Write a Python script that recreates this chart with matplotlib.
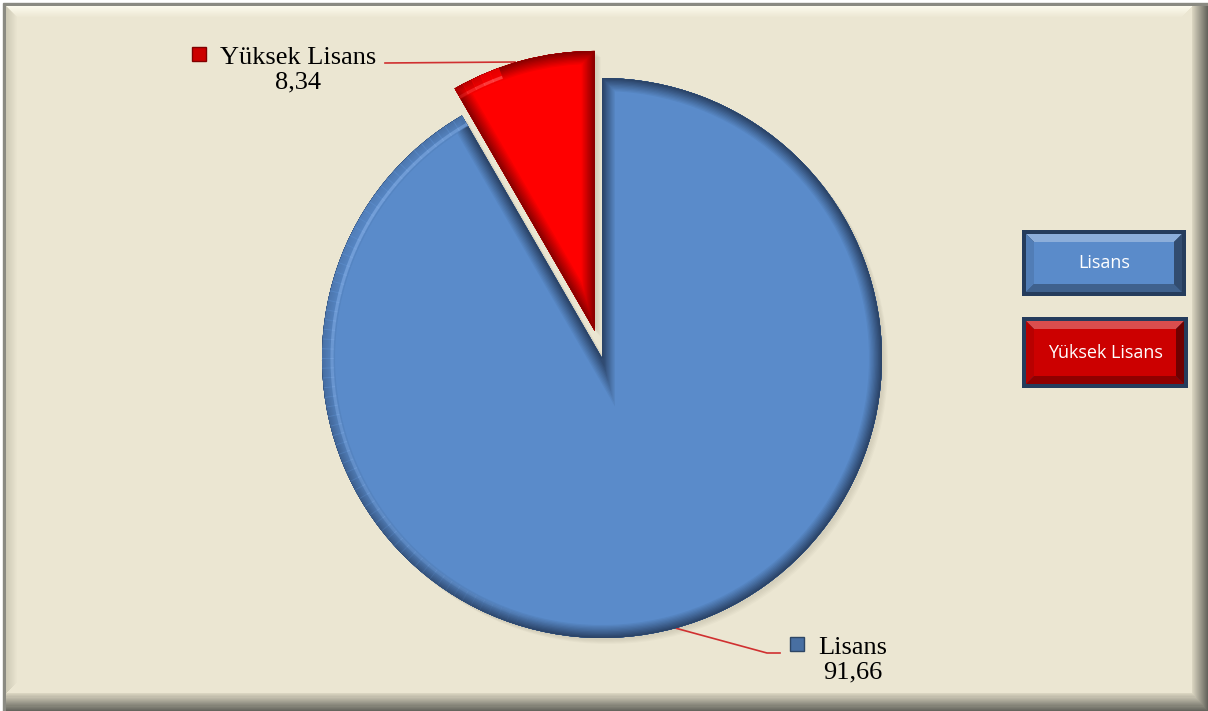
import numpy as np
import matplotlib.pyplot as plt
import matplotlib.patches as mpatches
from matplotlib.colors import to_rgb

# data
labels = ['Lisans', 'Yüksek Lisans']
values = [91.66, 8.34]
value_text = ['91,66', '8,34']
colors = ['#5a8bca', '#ff0000']
rims = ['#2b4468', '#8a0000']

W, H = 1208, 711
BG = '#ebe6d2'


def Y(y):
    # pixel row (from top) -> data y
    return H - y


def mix(c1, c2, t):
    a, b = np.array(to_rgb(c1)), np.array(to_rgb(c2))
    return tuple(a + (b - a) * t)


fig = plt.figure(figsize=(W / 100, H / 100), dpi=100)
ax = fig.add_axes([0, 0, 1, 1])

# frame with bevel
ax.add_patch(mpatches.Rectangle((0, 0), W, H, color='white', zorder=0))
ax.add_patch(mpatches.Rectangle((3, 0), W - 3, Y(3), color='#8a8a82', zorder=0))
n = 16
for i in range(n):
    c = mix('#65655d', '#d9d4c0', i / (n - 1))
    ax.add_patch(mpatches.Rectangle((6, i * 18 / n), W - 6 - i, Y(6) - i * 18 / n,
                                    color=c, lw=0, zorder=0))
ax.add_patch(mpatches.Rectangle((6, Y(693)), 1186, 687, color=BG, lw=0, zorder=0))
for i in range(12):
    c = mix('#fcfaec', BG, i / 11)
    ax.add_patch(mpatches.Polygon([(6 + i, Y(6 + i)), (1192 - i, Y(6 + i)),
                                   (1192 - i, Y(7 + i)), (7 + i, Y(7 + i))],
                                  closed=True, color=c, lw=0, zorder=0.5))
    c2 = mix('#cdc9b5', BG, i / 11)
    ax.add_patch(mpatches.Polygon([(6 + i, Y(6 + i)), (7 + i, Y(7 + i)),
                                   (7 + i, Y(693 - i)), (6 + i, Y(693 - i))],
                                  closed=True, color=c2, lw=0, zorder=0.5))

center = (602, Y(358))
radius = 280
explode = [0, 0.1 * radius]  # pie takes explode in data units

# soft shadow
for k in range(5):
    sh, _ = ax.pie(values, startangle=90, counterclock=False, explode=explode,
                   center=(center[0] + 2 + k, center[1] - 2 - k), radius=radius,
                   colors=['#9a9480'] * 2, wedgeprops=dict(alpha=0.06, lw=0))
    for w in sh:
        w.set_zorder(1)

wedges, _ = ax.pie(values, startangle=90, counterclock=False, explode=explode,
                   center=center, radius=radius, colors=colors,
                   wedgeprops=dict(lw=0))

# bevel: darker rim fading inward, clipped to each wedge
for w, face, rim in zip(wedges, colors, rims):
    w.set_zorder(2)
    width_px = 13
    m = 10
    for k in range(m):
        lw = 2 * width_px * (1 - k / m) * 0.72
        p = mpatches.PathPatch(w.get_path(), transform=w.get_transform(), fill=False,
                               edgecolor=mix(face, rim, (k + 1) / m), lw=lw,
                               joinstyle='miter', zorder=2.1)
        p.set_clip_path(w)
        ax.add_patch(p)

# light falls from the upper left: soften the rim there
lights = [(wedges[0], colors[0], '#7aa5de', 100, 260, 150),
          (wedges[1], colors[1], '#ff5050', 110, 122, 112)]
for w, face, light, a0, a1, peak in lights:
    cx, cy = w.center
    seg = np.arange(a0, a1, 2.0)
    for t0 in seg:
        th = np.radians(np.linspace(t0, t0 + 2.2, 5))
        al = max(0.0, 1 - abs(t0 + 1 - peak) / max(peak - a0, a1 - peak))
        ln, = ax.plot(cx + (radius - 6) * np.cos(th), cy + (radius - 6) * np.sin(th),
                      color=face, lw=9, alpha=0.85 * al, zorder=2.2,
                      solid_capstyle='butt')
        ln.set_clip_path(w)
        hl, = ax.plot(cx + (radius - 10) * np.cos(th), cy + (radius - 10) * np.sin(th),
                      color=light, lw=2.2, alpha=0.8 * al, zorder=2.3,
                      solid_capstyle='butt')
        hl.set_clip_path(w)

# data labels
font = 'Liberation Serif'
ax.plot([385, 515], [Y(63), Y(62)], color='#d03030', lw=1.2, zorder=1.5)
ax.plot([675, 767, 780], [Y(628), Y(653), Y(653)], color='#d03030', lw=1.2, zorder=1.5)

lab_pos = {'Lisans': (853, 660), 'Yüksek Lisans': (298, 70)}
mark_pos = {'Lisans': (797, 644), 'Yüksek Lisans': (199, 54)}
for lab, txt, face in zip(labels, value_text, colors):
    x, y = lab_pos[lab]
    ax.text(x, Y(y), lab + '\n' + txt, ha='center', va='center', fontsize=19,
            family=font, linespacing=1.15, color='black', zorder=3)
    mx, my = mark_pos[lab]
    ax.plot(mx, Y(my), marker='s', ms=10, color=mix(face, 'black', 0.2),
            mec=mix(face, 'black', 0.5), mew=1.0, zorder=3)

# legend boxes
boxes = {'Lisans': (1022, 230, 164, 66), 'Yüksek Lisans': (1022, 317, 166, 71)}
for lab, face in zip(labels, colors):
    x0, y0, bw, bh = boxes[lab]
    inner = face if lab == 'Lisans' else '#cc0000'
    x1, y1 = x0 + bw, y0 + bh
    ax.add_patch(mpatches.Rectangle((x0, Y(y1)), bw, bh, color='#253c5c', lw=0, zorder=3))
    a, b = 4, 12  # border, bevel
    ox0, oy0, ox1, oy1 = x0 + a, y0 + a, x1 - a, y1 - a
    ix0, iy0, ix1, iy1 = x0 + b, y0 + b, x1 - b, y1 - b
    sides = [
        ([(ox0, oy0), (ox1, oy0), (ix1, iy0), (ix0, iy0)], mix(inner, 'white', 0.3)),
        ([(ox1, oy0), (ox1, oy1), (ix1, iy1), (ix1, iy0)], mix(inner, 'black', 0.45)),
        ([(ox0, oy1), (ox1, oy1), (ix1, iy1), (ix0, iy1)], mix(inner, 'black', 0.3)),
        ([(ox0, oy0), (ox0, oy1), (ix0, iy1), (ix0, iy0)], mix(inner, 'black', 0.1)),
    ]
    for pts, c in sides:
        ax.add_patch(mpatches.Polygon([(px, Y(py)) for px, py in pts], closed=True,
                                      color=c, lw=0, zorder=3.1))
    ax.add_patch(mpatches.Rectangle((ix0, Y(iy1)), ix1 - ix0, iy1 - iy0,
                                    color=inner, lw=0, zorder=3.2))
    ax.text(x0 + bw / 2, Y(y0 + bh / 2), lab, ha='center', va='center',
            color='white', fontsize=13, family='Open Sans', zorder=4)

ax.set_xlim(0, W)
ax.set_ylim(0, H)
ax.set_aspect('equal')
ax.axis('off')

fig.savefig('out.png', dpi=100)
